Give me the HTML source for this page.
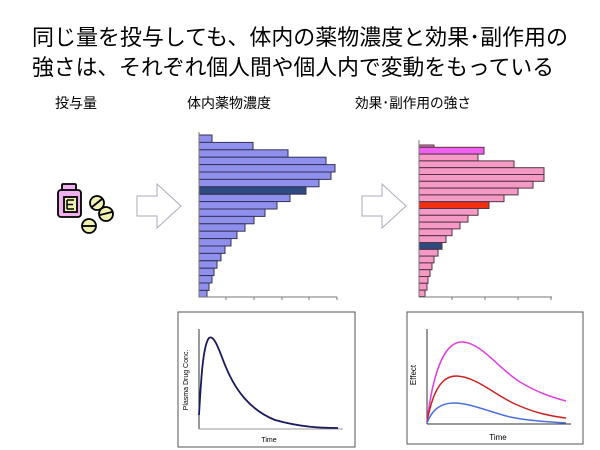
<!DOCTYPE html>
<html><head><meta charset="utf-8"><style>
html,body{margin:0;padding:0;background:#fff;}
svg{display:block;}
text{font-family:"Liberation Sans","Noto Sans CJK JP",sans-serif;}
</style></head><body>
<svg width="600" height="450" viewBox="0 0 600 450" xmlns="http://www.w3.org/2000/svg">
<text x="32" y="45" font-size="22" fill="#000" textLength="536" lengthAdjust="spacingAndGlyphs">同じ量を投与しても、体内の薬物濃度と効果･副作用の</text>
<text x="32" y="75" font-size="22" fill="#000" textLength="522" lengthAdjust="spacingAndGlyphs">強さは、それぞれ個人間や個人内で変動をもっている</text>
<text x="55" y="108" font-size="14" fill="#000">投与量</text>
<text x="187" y="108" font-size="14" fill="#000">体内薬物濃度</text>
<text x="355" y="108" font-size="14" fill="#000" textLength="116" lengthAdjust="spacingAndGlyphs">効果･副作用の強さ</text>

<!-- pill icon -->
<g stroke="#000" stroke-width="1.8">
<rect x="62" y="184" width="14" height="7" rx="1" fill="#f0b0f0"/>
<rect x="58" y="190" width="23" height="27" rx="3" fill="#f0b0f0"/>
<rect x="64" y="197" width="13" height="15" fill="#f0f0b0"/>
<path d="M67 200h7M67 204.5h6M67 209h7M67 200v9" fill="none" stroke-width="1.5"/>
<circle cx="97" cy="203" r="7" fill="#f0f0b0"/><line x1="92" y1="207" x2="102" y2="199"/>
<circle cx="106" cy="214" r="7" fill="#f0f0b0"/><line x1="100" y1="215" x2="112" y2="212"/>
<circle cx="89" cy="226" r="7" fill="#f0f0b0"/><line x1="82" y1="226" x2="96" y2="226"/>
</g>

<!-- arrows -->
<path d="M137 196H157V184L181 206L157 228V216H137Z" fill="#fff" stroke="#aab" stroke-width="1"/>
<path d="M362 196H382V184L406 206L382 228V216H362Z" fill="#fff" stroke="#aab" stroke-width="1"/>

<!-- left histogram -->
<g stroke="#333355" stroke-width="1">
<g fill="#8f8fee">
<rect x="199" y="135" width="13" height="7.4"/>
<rect x="199" y="142.4" width="54" height="7.4"/>
<rect x="199" y="149.8" width="89" height="7.4"/>
<rect x="199" y="157.2" width="127" height="7.4"/>
<rect x="199" y="164.6" width="136" height="7.4"/>
<rect x="199" y="172" width="132" height="7.4"/>
<rect x="199" y="179.4" width="120" height="7.4"/>
<rect x="199" y="194.2" width="91" height="7.4"/>
<rect x="199" y="201.6" width="78" height="7.4"/>
<rect x="199" y="209" width="66" height="7.4"/>
<rect x="199" y="216.4" width="55" height="7.4"/>
<rect x="199" y="223.8" width="46" height="7.4"/>
<rect x="199" y="231.2" width="38" height="7.4"/>
<rect x="199" y="238.6" width="32" height="7.4"/>
<rect x="199" y="246" width="26" height="7.4"/>
<rect x="199" y="253.4" width="22" height="7.4"/>
<rect x="199" y="260.8" width="18" height="7.4"/>
<rect x="199" y="268.2" width="15" height="7.4"/>
<rect x="199" y="275.6" width="13" height="7.4"/>
<rect x="199" y="283" width="10" height="7.4"/>
<rect x="199" y="290.4" width="8" height="6.6"/>
</g>
<rect x="199" y="186.8" width="107" height="7.4" fill="#2f4a80"/>
</g>
<g stroke="#777" stroke-width="1">
<line x1="199" y1="132" x2="199" y2="297"/>
<line x1="199" y1="297" x2="337" y2="297"/>
<line x1="226" y1="297" x2="226" y2="300"/><line x1="254" y1="297" x2="254" y2="300"/>
<line x1="282" y1="297" x2="282" y2="300"/><line x1="309" y1="297" x2="309" y2="300"/>
<line x1="337" y1="297" x2="337" y2="300"/>
</g>

<!-- right histogram -->
<g stroke="#553344" stroke-width="1">
<rect x="419" y="145" width="15" height="2" fill="#f090c0"/>
<rect x="419" y="147.3" width="65" height="6.8" fill="#f060f0"/>
<g fill="#f59ac5">
<rect x="419" y="154.1" width="59" height="6.8"/>
<rect x="419" y="160.9" width="95" height="6.8"/>
<rect x="419" y="167.7" width="125" height="6.8"/>
<rect x="419" y="174.5" width="125" height="6.8"/>
<rect x="419" y="181.3" width="114" height="6.8"/>
<rect x="419" y="188.1" width="99" height="6.8"/>
<rect x="419" y="194.9" width="85" height="6.8"/>
<rect x="419" y="208.5" width="59" height="6.8"/>
<rect x="419" y="215.3" width="49" height="6.8"/>
<rect x="419" y="222.1" width="41" height="6.8"/>
<rect x="419" y="228.9" width="33" height="6.8"/>
<rect x="419" y="235.7" width="27" height="6.8"/>
<rect x="419" y="249.3" width="19" height="6.8"/>
<rect x="419" y="256.1" width="15" height="6.8"/>
<rect x="419" y="262.9" width="13" height="6.8"/>
<rect x="419" y="269.7" width="11" height="6.8"/>
<rect x="419" y="276.5" width="9" height="6.8"/>
<rect x="419" y="283.3" width="8" height="6.8"/>
<rect x="419" y="290.1" width="6" height="6.4"/>
</g>
<rect x="419" y="201.7" width="70" height="6.8" fill="#f03010"/>
<rect x="419" y="242.5" width="23" height="6.8" fill="#2f4a80"/>
</g>
<g stroke="#777" stroke-width="1">
<line x1="419" y1="140" x2="419" y2="297"/>
<line x1="419" y1="297" x2="552" y2="297"/>
<line x1="452" y1="297" x2="452" y2="300"/><line x1="485" y1="297" x2="485" y2="300"/>
<line x1="518" y1="297" x2="518" y2="300"/><line x1="551" y1="297" x2="551" y2="300"/>
</g>

<!-- bottom left chart -->
<rect x="178" y="312" width="177" height="135" fill="#fff" stroke="#555" stroke-width="1"/>
<line x1="199" y1="329" x2="199" y2="429" stroke="#333" stroke-width="1"/>
<line x1="199" y1="429" x2="343" y2="429" stroke="#999" stroke-width="1"/>
<path d="M199 415C201 380 203 345 209 338C214 334 219 350 225 365C235 390 250 410 275 420C300 427 320 428 338 428" fill="none" stroke="#1a1a60" stroke-width="1.8"/>
<text x="269" y="442" font-size="7" fill="#000" text-anchor="middle">Time</text>
<text transform="translate(188,380) rotate(-90)" font-size="7" fill="#000" text-anchor="middle">Plasma Drug Conc.</text>

<!-- bottom right chart -->
<rect x="407" y="312" width="176" height="132" fill="#fff" stroke="#555" stroke-width="1"/>
<line x1="427" y1="329" x2="427" y2="424" stroke="#333" stroke-width="1"/>
<line x1="427" y1="424" x2="571" y2="424" stroke="#333" stroke-width="1"/>
<path d="M427 422C432 380 442 343 461 342C480 341 500 370 520 382C540 394 555 398 566 401" fill="none" stroke="#e040e0" stroke-width="1.5"/>
<path d="M427 422C432 395 440 376 456 376C475 376 495 395 515 404C535 413 550 416 566 418" fill="none" stroke="#cc2020" stroke-width="1.5"/>
<path d="M427 423C432 410 440 403 454 403C470 403 490 412 510 417C530 421 550 422 566 423" fill="none" stroke="#4a70e0" stroke-width="1.5"/>
<text x="498" y="440" font-size="8" fill="#000" text-anchor="middle">Time</text>
<text transform="translate(416,375) rotate(-90)" font-size="8" fill="#000" text-anchor="middle">Effect</text>
</svg>
</body></html>
